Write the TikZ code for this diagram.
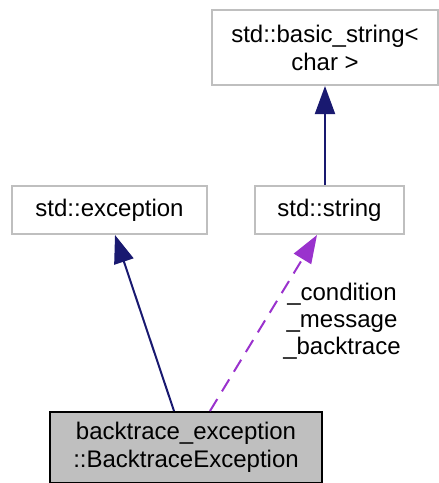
\documentclass[tikz,border=0pt]{standalone}
\usepackage{fontspec}
\setmainfont{Liberation Sans}
\usetikzlibrary{arrows.meta}
\definecolor{edgeblue}{HTML}{191970}
\definecolor{edgepurple}{HTML}{9A32CD}
\definecolor{boxgray}{HTML}{BFBFBF}
\tikzset{
  cls/.style={draw=boxgray,line width=2pt,fill=white,align=center,inner sep=0pt,
    font=\fontsize{24}{28}\selectfont},
  mainclass/.style={cls,draw=black,fill=boxgray},
  inherit/.style={draw=edgeblue,line width=2pt,-{Triangle[length=28pt,width=20pt]}},
  usage/.style={draw=edgepurple,line width=2pt,dash pattern=on 14pt off 9pt,
    -{Triangle[length=28pt,width=20pt]}},
  memb/.style={align=center,inner sep=0pt,font=\fontsize{24}{27}\selectfont}
}

\begin{document}
\begin{tikzpicture}[x=1pt,y=-1pt]
\useasboundingbox (0,0) rectangle (439,483);
\node[cls,minimum width=226pt,minimum height=75pt] (bstr) at (325,47.5) {std::basic\_string<\\char >};
\node[cls,minimum width=195pt,minimum height=48pt] (exc) at (109.5,210) {std::exception};
\node[cls,minimum width=149pt,minimum height=48pt] (str) at (329.5,210) {std::string};
\node[mainclass,minimum width=272pt,minimum height=71pt] (bte) at (186,447.5) {backtrace\_exception\\::BacktraceException};
\draw[inherit] ([xshift=-4.5pt]str.north) -- (bstr.south);
\draw[inherit] ([xshift=-12pt]bte.north) -- ([xshift=5.5pt]exc.south);
\draw[usage] ([xshift=24pt]bte.north) -- ([xshift=-12.5pt]str.south);
\node[memb] (vars) at (342,321) {\_condition\\\_message\\\_backtrace};
\end{tikzpicture}
\end{document}
